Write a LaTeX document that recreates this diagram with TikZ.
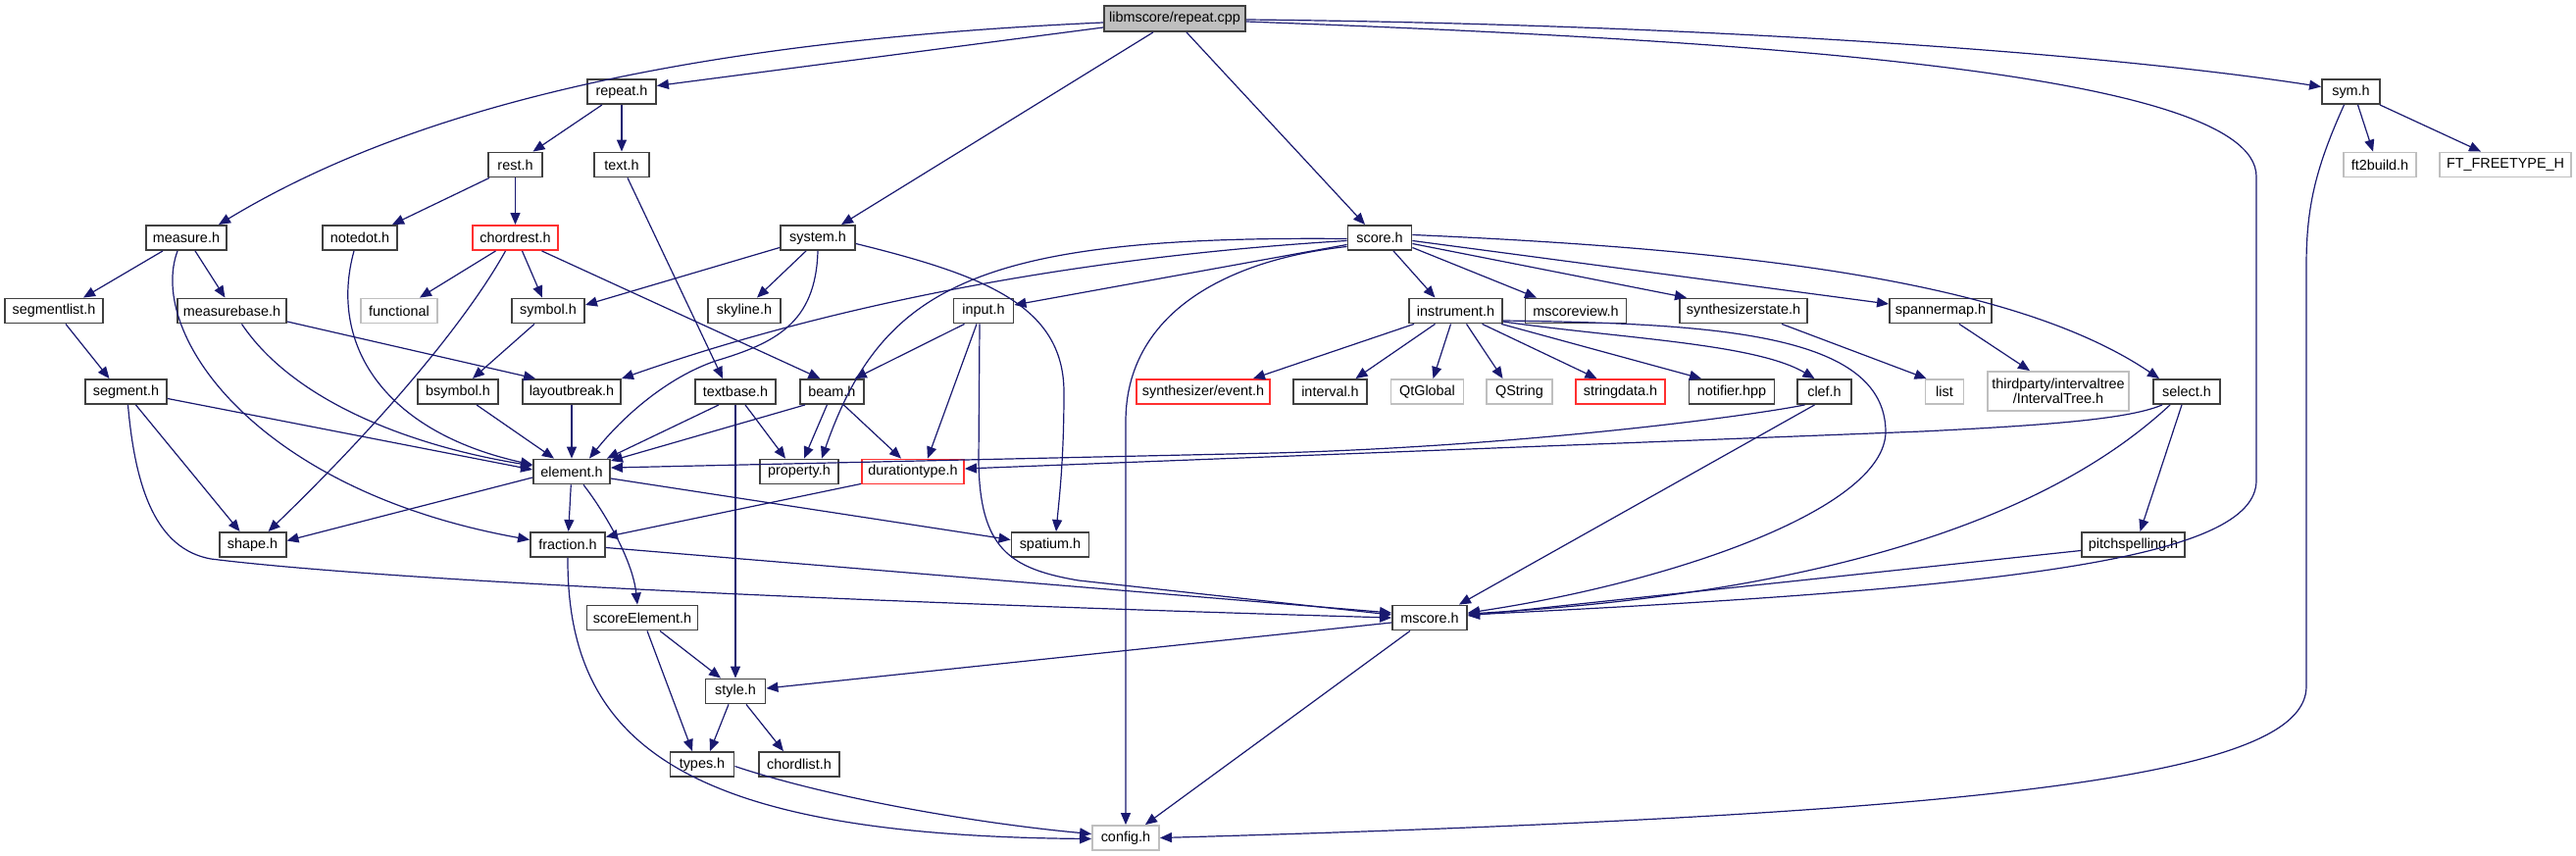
\documentclass[tikz,border=0pt]{standalone}
\usepackage{fontspec}
\setmainfont{Liberation Sans}
\usetikzlibrary{calc,arrows.meta}
\definecolor{edgec}{HTML}{191970}
\definecolor{boxc}{HTML}{404040}
\definecolor{grayc}{HTML}{BFBFBF}
\definecolor{redc}{HTML}{FF3030}
\begin{document}
\begin{tikzpicture}[x=0.75pt,y=-0.75pt,
  box/.style={draw=boxc, line width=1.4pt, fill=white, inner sep=0pt, minimum height=18.75pt, font=\fontsize{10.8}{11.5}\selectfont},
  nb/.style={box},
  gb/.style={box, draw=grayc},
  rb/.style={box, draw=redc},
  wd/.style={minimum width=#1*0.75pt},
  dep/.style={draw=edgec, line width=0.9pt, -{Triangle[length=9pt,width=7.5pt]}},
]
\fill[white] (0,0) rectangle (2627,873);
\useasboundingbox (0,0) rectangle (2627,873);

% nodes
\node[nb, fill=grayc, wd=144, minimum height=26*0.75pt] (root) at (1198,19) {libmscore/repeat.cpp};
\node[nb, wd=70] (repeath) at (634,93.5) {repeat.h};
\node[nb, wd=59] (symh) at (2397.5,93.5) {sym.h};
\node[nb, wd=55] (resth) at (525.5,168) {rest.h};
\node[nb, wd=56] (texth) at (634,168) {text.h};
\node[gb, wd=74] (ft2) at (2427,168) {ft2build.h};
\node[gb, wd=134] (ftf) at (2555,168) {FT\_FREETYPE\_H};
\node[nb, wd=82] (measureh) at (190,242.5) {measure.h};
\node[nb, wd=76] (notedoth) at (367,242.5) {notedot.h};
\node[rb, wd=87] (chordresth) at (525.5,242.5) {chordrest.h};
\node[nb, wd=76] (systemh) at (834,242.5) {system.h};
\node[nb, wd=65] (scoreh) at (1407,242.5) {score.h};
\node[nb, wd=100] (segmentlisth) at (55,317) {segmentlist.h};
\node[nb, wd=111] (measurebaseh) at (236.5,317) {measurebase.h};
\node[gb, wd=78] (functional) at (407,317) {functional};
\node[nb, wd=74] (symbolh) at (559,317) {symbol.h};
\node[nb, wd=74] (skylineh) at (759,317) {skyline.h};
\node[nb, wd=61] (inputh) at (1003,317) {input.h};
\node[nb, wd=95] (instrumenth) at (1484.5,317) {instrument.h};
\node[nb, wd=103] (mscoreviewh) at (1607,317) {mscoreview.h};
\node[nb, wd=130] (synthstateh) at (1778,317) {synthesizerstate.h};
\node[nb, wd=104] (spannermaph) at (1979,317) {spannermap.h};
\node[nb, wd=83] (segmenth) at (128.5,399.5) {segment.h};
\node[nb, wd=82] (bsymbolh) at (467,399.5) {bsymbol.h};
\node[nb, wd=100] (layoutbreakh) at (583,399.5) {layoutbreak.h};
\node[nb, wd=82] (textbaseh) at (750,399.5) {textbase.h};
\node[nb, wd=65] (beamh) at (848.4,399.5) {beam.h};
\node[rb, wd=136] (syntheventh) at (1227,399.5) {synthesizer/event.h};
\node[nb, wd=75] (intervalh) at (1356.5,399.5) {interval.h};
\node[gb, wd=74] (qtglobal) at (1455.5,399.5) {QtGlobal};
\node[gb, wd=67] (qstring) at (1549.5,399.5) {QString};
\node[rb, wd=91] (stringdatah) at (1652.5,399.5) {stringdata.h};
\node[nb, wd=87] (notifierh) at (1766,399.5) {notifier.hpp};
\node[nb, wd=55] (clefh) at (1860.5,399.5) {clef.h};
\node[gb, wd=39] (listh) at (1983,399.5) {list};
\node[gb, wd=144, minimum height=40*0.75pt, align=center] (itree) at (2099,399) {thirdparty/intervaltree\\/IntervalTree.h};
\node[nb, wd=68] (selecth) at (2230,399.5) {select.h};
\node[nb, wd=78] (elementh) at (583,481) {element.h};
\node[nb, wd=80] (propertyh) at (815,481) {property.h};
\node[rb, wd=104] (durationtypeh) at (931,481) {durationtype.h};
\node[nb, wd=68] (shapeh) at (257.6,555.5) {shape.h};
\node[nb, wd=76] (fractionh) at (579,555.5) {fraction.h};
\node[nb, wd=79] (spatiumh) at (1071,555.5) {spatium.h};
\node[nb, wd=105] (pitchspellingh) at (2175.5,555.5) {pitchspelling.h};
\node[nb, wd=113] (scoreelementh) at (655,630) {scoreElement.h};
\node[nb, wd=76] (mscoreh) at (1458,630) {mscore.h};
\node[nb, wd=61] (styleh) at (750,705) {style.h};
\node[nb, wd=65] (typesh) at (716,779.5) {types.h};
\node[nb, wd=82] (chordlisth) at (815,779.5) {chordlist.h};
\node[gb, wd=68] (configh) at (1148,854.5) {config.h};

% root
\draw[dep] ($(root.west)+(0,9)$) -- ($(repeath.east)+(0,-6)$);
\draw[dep] ($(root.west)+(0,4)$) .. controls (700,42) and (420,110) .. ($(measureh.north)+(33,0)$);
\draw[dep] ($(root.south)+(-22,0)$) -- ($(systemh.north)+(24,0)$);
\draw[dep] ($(root.south)+(12,0)$) -- ($(scoreh.north)+(-15,0)$);
\draw[dep] ($(root.east)+(0,1)$) .. controls (1750,25) and (2150,55) .. ($(symh.west)+(0,-5)$);
\draw[dep] ($(root.east)+(0,3)$) .. controls (1750,40) and (2301,70) .. (2301,180) -- (2301,490) .. controls (2301,570) and (2050,600) .. ($(mscoreh.east)+(0,-3)$);
% repeat.h, rest.h, text.h
\draw[dep] ($(repeath.south)+(-20,0)$) -- ($(resth.north)+(18,0)$);
\draw[dep] (repeath) -- (texth);
\draw[dep] ($(resth.south west)+(2,0)$) -- ($(notedoth.north)+(33,0)$);
\draw[dep] (resth) -- (chordresth);
\draw[dep] ($(texth.south)+(6,0)$) -- ($(textbaseh.north)+(-13,0)$);
% measure.h
\draw[dep] ($(measureh.south)+(-24,0)$) -- ($(segmentlisth.north)+(30,0)$);
\draw[dep] ($(measureh.south)+(9,0)$) -- ($(measurebaseh.north)+(-7,0)$);
\draw[dep] ($(measureh.south)+(-9,0)$) .. controls (150,340) and (260,500) .. ($(fractionh.west)+(0,-5)$);
% notedot
\draw[dep] ($(notedoth.south)+(-6,0)$) .. controls (335,350) and (390,440) .. ($(elementh.west)+(0,-7)$);
% chordrest
\draw[dep] ($(chordresth.south)+(-20,0)$) -- ($(functional.north)+(21,0)$);
\draw[dep] ($(chordresth.south)+(7,0)$) -- ($(symbolh.north)+(-6,0)$);
\draw[dep] ($(chordresth.south)+(-10,0)$) .. controls (480,320) and (400,420) .. ($(shapeh.north)+(16,0)$);
\draw[dep] ($(chordresth.south)+(27,0)$) -- ($(beamh.north)+(-12,0)$);
% system
\draw[dep] ($(systemh.west)+(0,10)$) -- ($(symbolh.east)+(0,-6)$);
\draw[dep] ($(systemh.south)+(-12,0)$) -- ($(skylineh.north)+(13,0)$);
\draw[dep] ($(systemh.east)+(0,6)$) .. controls (1000,280) and (1085,310) .. (1085,400) .. controls (1085,470) and (1080,510) .. ($(spatiumh.north)+(6,0)$);
\draw[dep] (systemh.south) .. controls (832,330) and (790,350) .. (730,368) .. controls (680,385) and (635,425) .. ($(elementh.north)+(18,0)$);
% score
\draw[dep] ($(scoreh.west)+(0,1)$) .. controls (1000,240) and (900,290) .. ($(propertyh.north)+(23,0)$);
\draw[dep] ($(scoreh.west)+(0,3)$) .. controls (1100,262) and (850,310) .. (layoutbreakh.north east);
\draw[dep] ($(scoreh.west)+(0,7)$) -- ($(inputh.east)+(0,-6)$);
\draw[dep] ($(scoreh.west)+(0,9)$) .. controls (1250,265) and (1148,320) .. (1148,430) -- (configh.north);
\draw[dep] ($(scoreh.south)+(14,0)$) -- ($(instrumenth.north)+(-21,0)$);
\draw[dep] ($(scoreh.east)+(0,10)$) -- ($(mscoreviewh.north)+(-40,0)$);
\draw[dep] ($(scoreh.east)+(0,6)$) -- ($(synthstateh.north)+(-58,0)$);
\draw[dep] ($(scoreh.east)+(0,3)$) -- ($(spannermaph.west)+(0,-7)$);
\draw[dep] ($(scoreh.east)+(0,-3)$) .. controls (1800,255) and (2060,290) .. ($(selecth.north)+(-28,0)$);
% instrument
\draw[dep] ($(instrumenth.south west)+(6,0)$) -- ($(syntheventh.north east)+(-18,0)$);
\draw[dep] ($(instrumenth.south)+(-21,0)$) -- ($(intervalh.north)+(26,0)$);
\draw[dep] ($(instrumenth.south)+(-5,0)$) -- ($(qtglobal.north)+(6,0)$);
\draw[dep] ($(instrumenth.south)+(11,0)$) -- ($(qstring.north)+(-17,0)$);
\draw[dep] ($(instrumenth.south)+(27,0)$) -- ($(stringdatah.north)+(-24,0)$);
\draw[dep] ($(instrumenth.south east)+(-2,0)$) -- ($(notifierh.north)+(-31,0)$);
\draw[dep] ($(instrumenth.east)+(0,11)$) .. controls (1650,345) and (1790,350) .. ($(clefh.north)+(-10,0)$);
\draw[dep] ($(instrumenth.east)+(0,10)$) .. controls (1750,330) and (1922,340) .. (1923,440) .. controls (1923,520) and (1700,595) .. ($(mscoreh.east)+(0,-5)$);
% synthesizerstate, spannermap
\draw[dep] ($(synthstateh.south)+(39,0)$) -- ($(listh.north west)+(2,0)$);
\draw[dep] ($(spannermaph.south)+(19,0)$) -- ($(itree.north)+(-29,0)$);
% clef
\draw[dep] ($(clefh.south)+(-20,0)$) .. controls (1780,425) and (1550,455) .. (1300,462) -- ($(elementh.east)+(0,-4)$);
\draw[dep] ($(clefh.south)+(-10,0)$) -- ($(mscoreh.north east)+(-9,0)$);
% select
\draw[dep] ($(selecth.south)+(-25,0)$) .. controls (2170,428) and (2080,434) .. (1960,440) -- ($(durationtypeh.east)+(0,-3)$);
\draw[dep] ($(selecth.south)+(-17,0)$) .. controls (2130,490) and (1950,600) .. ($(mscoreh.east)+(0,-4)$);
\draw[dep] ($(selecth.south)+(-5,0)$) -- ($(pitchspellingh.north)+(7,0)$);
\draw[dep] ($(pitchspellingh.west)+(0,6)$) -- ($(mscoreh.east)+(0,-2)$);
% sym
\draw[dep] ($(symh.south)+(7,0)$) -- ($(ft2.north)+(-7,0)$);
\draw[dep] ($(symh.south east)+(-1,0)$) -- ($(ftf.north)+(-25,0)$);
\draw[dep] ($(symh.south)+(-7,0)$) .. controls (2362,170) and (2352,210) .. (2352,270) -- (2352,700) .. controls (2352,790) and (2050,830) .. ($(configh.east)+(0,0)$);
% measurebase
\draw[dep] ($(measurebaseh.east)+(0,11)$) -- ($(layoutbreakh.north west)+(14,0)$);
\draw[dep] ($(measurebaseh.south)+(10,0)$) .. controls (300,410) and (420,455) .. ($(elementh.west)+(0,-6)$);
% segmentlist, segment
\draw[dep] ($(segmentlisth.south)+(12,0)$) -- ($(segmenth.north)+(-17,0)$);
\draw[dep] ($(segmenth.east)+(0,7)$) -- ($(elementh.west)+(0,-2)$);
\draw[dep] ($(segmenth.south)+(10,0)$) -- ($(shapeh.north)+(-13,0)$);
\draw[dep] ($(segmenth.south)+(2,0)$) .. controls (138,500) and (160,560) .. (215,570) .. controls (400,593) and (900,615) .. ($(mscoreh.west)+(0,0)$);
% symbol, bsymbol, layoutbreak
\draw[dep] ($(symbolh.south)+(-14,0)$) -- ($(bsymbolh.north)+(15,0)$);
\draw[dep] ($(bsymbolh.south)+(19,0)$) -- ($(elementh.north)+(-18,0)$);
\draw[dep] (layoutbreakh) -- (elementh);
% textbase
\draw[dep] ($(textbaseh.south)+(-17,0)$) -- ($(elementh.north east)+(-4,0)$);
\draw[dep] ($(textbaseh.south)+(10,0)$) -- ($(propertyh.north)+(-14,0)$);
\draw[dep] (textbaseh) -- (styleh);
% beam
\draw[dep] ($(beamh.south west)+(6,0)$) -- ($(elementh.east)+(0,-11)$);
\draw[dep] ($(beamh.south)+(-5,0)$) -- ($(propertyh.north)+(5,0)$);
\draw[dep] ($(beamh.south)+(12,0)$) -- ($(durationtypeh.north)+(-12,0)$);
% input
\draw[dep] ($(inputh.south west)+(12,0)$) -- ($(beamh.north east)+(-10,0)$);
\draw[dep] ($(inputh.south)+(-7,0)$) -- ($(durationtypeh.north)+(15,0)$);
\draw[dep] ($(inputh.south)+(-4,0)$) -- (998,470) .. controls (999,560) and (1030,580) .. (1100,592) -- ($(mscoreh.west)+(0,-3)$);
% element
\draw[dep] ($(elementh.west)+(0,6)$) -- ($(shapeh.east)+(0,-4)$);
\draw[dep] (elementh) -- (fractionh);
\draw[dep] ($(elementh.south)+(12,0)$) .. controls (615,520) and (645,570) .. ($(scoreelementh.north)+(-5,0)$);
\draw[dep] ($(elementh.east)+(0,7)$) -- ($(spatiumh.west)+(0,-5)$);
% durationtype
\draw[dep] ($(durationtypeh.south west)+(0,-1)$) -- ($(fractionh.east)+(0,-8)$);
% fraction
\draw[dep] ($(fractionh.east)+(0,3)$) -- ($(mscoreh.west)+(0,-5)$);
\draw[dep] (fractionh.south) .. controls (578,760) and (700,852) .. ($(configh.west)+(0,1)$);
% scoreElement
\draw[dep] ($(scoreelementh.south)+(18,0)$) -- ($(styleh.north)+(-15,0)$);
\draw[dep] ($(scoreelementh.south)+(5,0)$) -- ($(typesh.north)+(-10,0)$);
% mscore
\draw[dep] ($(mscoreh.west)+(0,5)$) -- ($(styleh.east)+(0,-3)$);
\draw[dep] ($(mscoreh.south)+(-20,0)$) -- ($(configh.north east)+(-15,0)$);
% style
\draw[dep] ($(styleh.south)+(-7,0)$) -- ($(typesh.north)+(8,0)$);
\draw[dep] ($(styleh.south)+(11,0)$) -- ($(chordlisth.north)+(-16,0)$);
% types
\draw[dep] ($(typesh.east)+(0,2)$) .. controls (850,815) and (1000,840) .. ($(configh.west)+(0,-4)$);
\end{tikzpicture}
\end{document}
